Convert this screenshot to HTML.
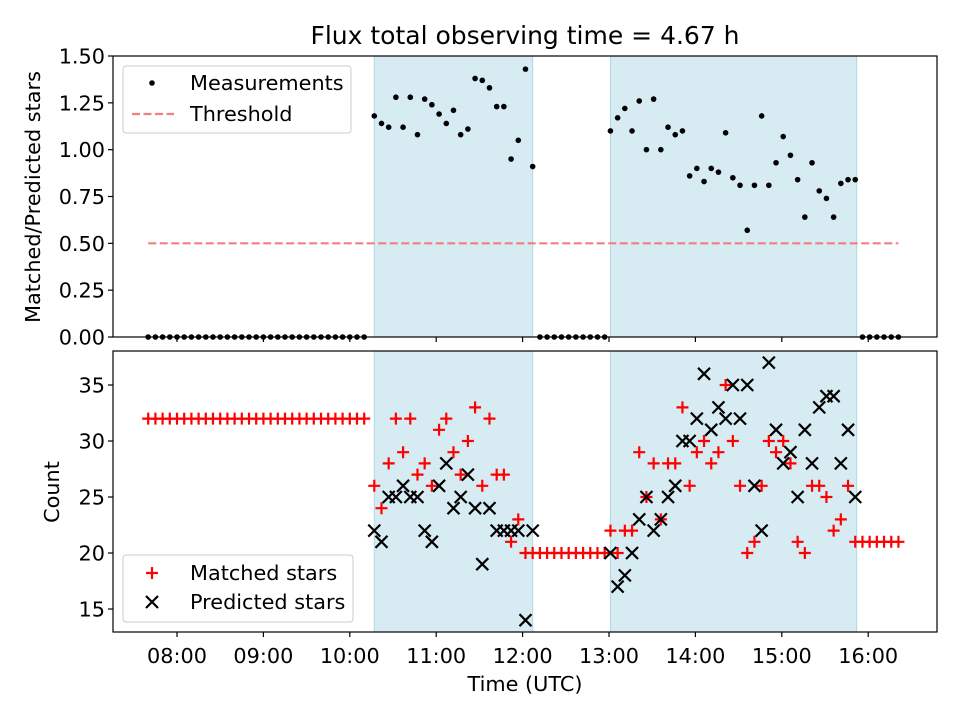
<!DOCTYPE html>
<html><head><meta charset="utf-8"><style>
html,body{margin:0;padding:0;background:#fff}
svg{display:block;font-family:"DejaVu Sans","Liberation Sans",sans-serif}
</style></head><body>
<svg id="chart" width="960" height="720" viewBox="0 0 960 720" xmlns="http://www.w3.org/2000/svg">
<rect width="960" height="720" fill="#fff"/>
<text x="525" y="44" font-size="25" text-anchor="middle">Flux total observing time = 4.67 h</text>
<g id="top"></g>
<g id="bot"></g>
</svg>
<script>
// segment start times (hours) and 5-minute cadence
const segStarts = [7 + 40/60, 10 + 17/60, 12 + 12/60, 13 + 1/60, 15 + 56/60];
const segCounts = [31, 23, 10, 35, 6];
const shadedSpans = [[10 + 17/60, 12 + 7/60], [13 + 1/60, 15 + 52/60]];
const ratioA = [1.18,1.14,1.12,1.28,1.12,1.28,1.08,1.27,1.24,1.19,1.14,1.21,1.08,1.11,1.38,1.37,1.33,1.23,1.23,0.95,1.05,1.43,0.91];
const ratioB = [1.10,1.17,1.22,1.10,1.26,1.00,1.27,1.00,1.12,1.08,1.10,0.86,0.90,0.83,0.90,0.88,1.09,0.85,0.81,0.57,0.81,1.18,0.81,0.93,1.07,0.97,0.84,0.64,0.93,0.78,0.74,0.64,0.82,0.84,0.84];
const matchedFlat = [32, 20, 21];
const matchedA = [26,24,28,32,29,32,27,28,26,31,32,29,27,30,33,26,32,27,27,21,23,20,20];
const predictedA = [22,21,25,25,26,25,25,22,21,26,28,24,25,27,24,19,24,22,22,22,22,14,22];
const matchedB = [22,20,22,22,29,25,28,23,28,28,33,26,29,30,28,29,35,30,26,20,21,26,30,29,30,28,21,20,26,26,25,22,23,26,21];
const predictedB = [20,17,18,20,23,25,22,23,25,26,30,30,32,36,31,33,32,35,32,35,26,22,37,31,28,29,25,31,28,33,34,34,28,31,25];
const threshold = 0.5;
const xTicks = [8,9,10,11,12,13,14,15,16];
const xTickLabels = ["08:00","09:00","10:00","11:00","12:00","13:00","14:00","15:00","16:00"];
const topTicks = [0,0.25,0.5,0.75,1.0,1.25,1.5];
const topTickLabels = ["0.00","0.25","0.50","0.75","1.00","1.25","1.50"];
const botTicks = [15,20,25,30,35];
const botTickLabels = ["15","20","25","30","35"];

const NS="http://www.w3.org/2000/svg";
const L=113,R=937;
const FS=20.8;
const X=h=>177+(h-8)*86.4;
const YT=v=>337-v*187.33;
const YB=v=>609-(v-15)*11.2;
function mk(p,tag,at){const e=document.createElementNS(NS,tag);for(const k in at)e.setAttribute(k,at[k]);p.appendChild(e);return e;}
function times(i){const a=[];for(let k=0;k<segCounts[i];k++)a.push(segStarts[i]+k*5/60);return a;}
const T=[0,1,2,3,4].map(times);

function panel(g,top,bottom,yfun,ticks,labels,showX){
  shadedSpans.forEach(s=>{
    const r=mk(g,'rect',{x:X(s[0]),y:top,width:X(s[1])-X(s[0]),height:bottom-top,fill:'#add8e6','fill-opacity':0.5,stroke:'#add8e6','stroke-width':1});
    
    
  });
  ticks.forEach((t,i)=>{
    const y=yfun(t);
    mk(g,'line',{x1:L-5,x2:L,y1:y,y2:y,stroke:'#000','stroke-width':1.2});
    const tx=mk(g,'text',{x:L-8,y:y+7.5,'font-size':FS,'text-anchor':'end'});
    tx.textContent=labels[i];
    
    
  });
  xTicks.forEach((t,i)=>{
    const x=X(t);
    mk(g,'line',{x1:x,x2:x,y1:bottom,y2:bottom+5,stroke:'#000','stroke-width':1.2});
    if(showX){
      const tx=mk(g,'text',{x:x,y:bottom+31,'font-size':FS,'text-anchor':'middle'});
      tx.textContent=xTickLabels[i];
      
      
    }
  });
}
function frame(g,top,bottom){
  const f=mk(g,'rect',{x:L,y:top,width:R-L,height:bottom-top,fill:'none',stroke:'#000','stroke-width':1.2});
  
  
}
function plus(g,x,y){
  const p=mk(g,'path',{d:`M${x-6} ${y}H${x+6}M${x} ${y-6}V${y+6}`,stroke:'#ff0000','stroke-width':2.2,fill:'none'});
  
  
}
function cross(g,x,y){
  const p=mk(g,'path',{d:`M${x-6} ${y-6}L${x+6} ${y+6}M${x-6} ${y+6}L${x+6} ${y-6}`,stroke:'#000','stroke-width':2.2,fill:'none'});
  
  
}
function dot(g,x,y){
  const c=mk(g,'circle',{cx:x,cy:y,r:2.8,fill:'#000'});
  
  
}

// top panel
const gt=document.getElementById('top');
panel(gt,56,337,YT,topTicks,topTickLabels,false);
const allT=[].concat(...T);
const th=mk(gt,'line',{x1:X(allT[0]),x2:X(allT[allT.length-1]),y1:YT(threshold),y2:YT(threshold),stroke:'#f08080','stroke-width':2.2,'stroke-dasharray':'8,3.5'});


[[0,null],[1,ratioA],[2,null],[3,ratioB],[4,null]].forEach(([i,arr])=>{
  T[i].forEach((t,k)=>dot(gt,X(t),YT(arr?arr[k]:0)));
});
frame(gt,56,337);
const ylt=mk(gt,'text',{x:0,y:0,'font-size':FS,'text-anchor':'middle',transform:'translate(40,197) rotate(-90)'});
ylt.textContent='Matched/Predicted stars';


// top legend
const lg=mk(gt,'g',{});


mk(lg,'rect',{x:123,y:66,width:228,height:67,rx:3,fill:'#fff','fill-opacity':0.8,stroke:'#ccc'});
mk(lg,'circle',{cx:152,cy:83,r:2.8,fill:'#000'});
let t1=mk(lg,'text',{x:190,y:90,'font-size':FS});t1.textContent='Measurements';
mk(lg,'line',{x1:132,x2:174,y1:114,y2:114,stroke:'#f08080','stroke-width':2.2,'stroke-dasharray':'8,3.5'});
let t2=mk(lg,'text',{x:190,y:121,'font-size':FS});t2.textContent='Threshold';

// bottom panel
const gb=document.getElementById('bot');
panel(gb,351,632,YB,botTicks,botTickLabels,true);
T[0].forEach(t=>plus(gb,X(t),YB(matchedFlat[0])));
T[2].forEach(t=>plus(gb,X(t),YB(matchedFlat[1])));
T[4].forEach(t=>plus(gb,X(t),YB(matchedFlat[2])));
T[1].forEach((t,k)=>plus(gb,X(t),YB(matchedA[k])));
T[3].forEach((t,k)=>plus(gb,X(t),YB(matchedB[k])));
T[1].forEach((t,k)=>cross(gb,X(t),YB(predictedA[k])));
T[3].forEach((t,k)=>cross(gb,X(t),YB(predictedB[k])));
frame(gb,351,632);
const ylb=mk(gb,'text',{x:0,y:0,'font-size':FS,'text-anchor':'middle',transform:'translate(59,492) rotate(-90)'});
ylb.textContent='Count';


const xl=mk(gb,'text',{x:525,y:691,'font-size':FS,'text-anchor':'middle'});
xl.textContent='Time (UTC)';


const lb=mk(gb,'g',{});


mk(lb,'rect',{x:123,y:555,width:230,height:67,rx:3,fill:'#fff','fill-opacity':0.8,stroke:'#ccc'});
mk(lb,'path',{d:'M146 573H158M152 567V579',stroke:'#f00','stroke-width':2.2});
let t3=mk(lb,'text',{x:190,y:580,'font-size':FS});t3.textContent='Matched stars';
mk(lb,'path',{d:'M146 596L158 608M146 608L158 596',stroke:'#000','stroke-width':2.2});
let t4=mk(lb,'text',{x:190,y:609,'font-size':FS});t4.textContent='Predicted stars';
</script>
</body></html>
